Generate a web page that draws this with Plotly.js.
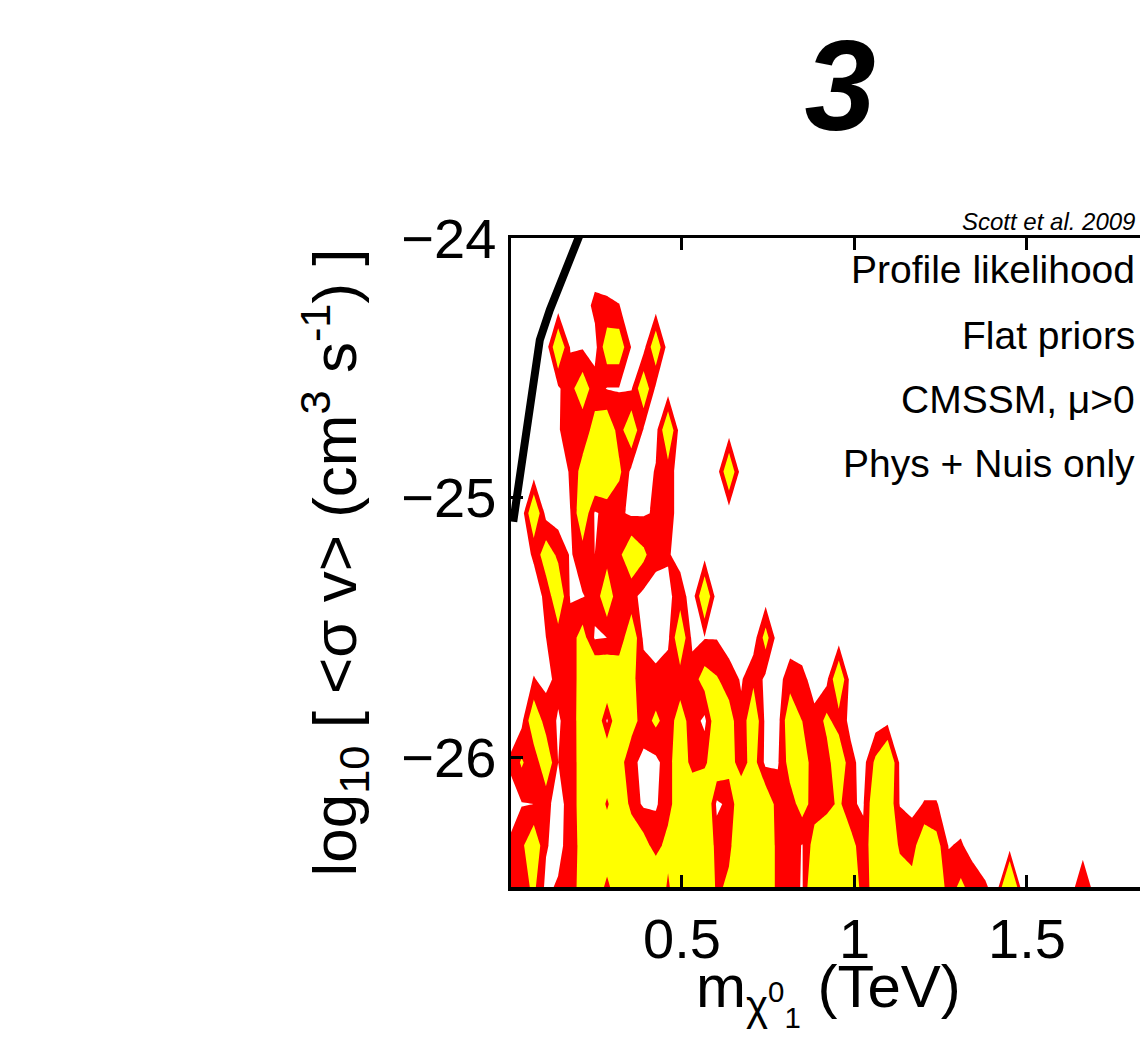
<!DOCTYPE html>
<html>
<head>
<meta charset="utf-8">
<script src="https://cdn.plot.ly/plotly-3.0.1.min.js"></script>
<style>
html,body{margin:0;padding:0;overflow:hidden;background:#ffffff;}
#chart{width:1680px;height:1052px;}
</style>
</head>
<body>
<div id="chart"></div>
<script>
// neutralino mass grid (TeV)
const massTeV = [0,0.0354,0.0707,0.1061,0.1414,0.1768,0.2122,0.2475,0.2829,0.3182,
  0.3536,0.3890,0.4243,0.4597,0.4950,0.5304,0.5658,0.6011,0.6365,0.6718,
  0.7072,0.7426,0.7779,0.8133,0.8486,0.8840,0.9194,0.9547,0.9901,1.0254,
  1.0608,1.0962,1.1315,1.1669,1.2022,1.2376,1.2730,1.3083,1.3437,1.3790,
  1.4144,1.4498,1.4851,1.5205,1.5558,1.5912,1.6266,1.6619,1.6973];
// log10 <sigma v> grid
const logSigmaV = [-26.50,-26.34,-26.18,-26.02,-25.86,-25.70,-25.54,-25.38,
  -25.22,-25.06,-24.90,-24.74,-24.58,-24.42,-24.26,-24.10];

// profile likelihood values read per grid row (bottom row first)
const likeRow00 = [1.2,2,3.5,0.5,1.3,2,4,6,2,6, 6,6,6,2.5,6,6,6,2.5,3.5,6, 6,6,2,2,0.8,6,6,6,5,2, 4,6,5,4,6,5,2,3.5,2,1.2, 0.3,8,0,0,0,0,0,2.9,0];
const likeRow01 = [1.2,2.5,5,1.2,0.2,2.2,3.6,6,6,6, 6,4,2,4,6,6,6,2,2.5,5, 6,6,2,2,0.9,4,6,4,4,1.5, 5,6,2.5,2,5,4,0.9,1.2,0.3,0, 0,0,0,0,0,0,0,0,0];
const likeRow02 = [0.3,0.9,1,1.5,0.3,1.8,4.2,6,2.5,6, 2,0.7,0.8,2,5,6,6,0.6,1.5,5, 6,5,2,2,4,2,2,3.5,1.2,0.8, 5,5,0.9,0.5,1.1,1.1,0.3,0,0,0, 0,0,0,0,0,0,0,0,0];
const likeRow03 = [1.2,3.3,1.5,5,1,2.3,3.7,6,6,4, 1.5,0.5,0.5,2,5,2,2.5,5,4,2, 4,0.5,0.8,4,5,1.2,2,5,1.5,0.3, 3.5,6,0.7,0,0,0,0,0,0,0, 0,0,0,0,0,0,0,0,0];
const likeRow04 = [0,0.5,5,2,0.8,1.8,4.3,6,0.7,6, 4,2,3.5,2,4,2,0.5,5,4,1.5, 5,0.5,0.3,5,3,1.5,3.6,2,0.5,0, 0,0.5,0,0,0,0,0,0,0,0, 0,0,0,0,0,0,0,0,0];
const likeRow05 = [0,0,1.1,0.5,1.5,2.2,3.8,6,6,5, 3.5,2,1.5,2,2,2,4,3.2,2,0.8, 2.5,0.5,0.3,2,1.5,0.3,0.5,5.5,0,0, 0,0,0,0,0,0,0,0,0,0, 0,0,0,0,0,0,0,0,0];
const likeRow06 = [0,0,0,1,2,2,4,0.8,1,1.5, 5,0.6,0.2,0.6,5,0.5,0.9,0.9,0,0, 0,4,0,0,0,0,0,0,0,0, 0,0,0,0,0,0,0,0,0,0, 0,0,0,0,0,0,0,0,0];
const likeRow07 = [0,0,0,1.5,5,0.8,0.9,1.5,5,1, 1.5,0.5,0.3,0.5,2,0,5.5,0,0,0, 0,0,0,0,0,0,0,0,0,0, 0,0,0,0,0,0,0,0,0,0, 0,0,0,0,0,0,0,0,0];
const likeRow08 = [0,0,1.3,4.5,2.5,0.8,2,1,2,2.5, 5,3.5,1.5,1.2,0.3,0,0.3,0,0,0, 0,0,0,0,0,0,0,0,0,0, 0,0,0,0,0,0,0,0,0,0, 0,0,0,0,0,0,0,0,0];
const likeRow09 = [0,0,5.5,0.3,0,1,5,0.8,1.5,1.3, 0.7,0.8,1.2,2,0,0,0,0,0,0, 0,0,0,0,0,0,0,0,0,0, 0,0,0,0,0,0,0,0,0,0, 0,0,0,0,0,0,0,0,0];
const likeRow10 = [0,0,0,0,0,1.2,4,6,6,3.5, 0.5,0,1.2,2,0,0,0,0,5.5,0, 0,0,0,0,0,0,0,0,0,0, 0,0,0,0,0,0,0,0,0,0, 0,0,0,0,0,0,0,0,0];
const likeRow11 = [0,0,0,0,0.8,2.2,1.5,4,5,2, 5,0.8,0.3,5.5,0,0,0,0,0,0, 0,0,0,0,0,0,0,0,0,0, 0,0,0,0,0,0,0,0,0,0, 0,0,0,0,0,0,0,0,0];
const likeRow12 = [0,0,0,0,0.7,2.3,4.5,1.8,0.9,0.9, 0.8,5,0.6,0,0,0,0,0,0,0, 0,0,0,0,0,0,0,0,0,0, 0,0,0,0,0,0,0,0,0,0, 0,0,0,0,0,0,0,0,0];
const likeRow13 = [0,0,0,0,5.5,0.8,0.8,0.3,4.5,4.5, 0.9,0.3,5,0,0,0,0,0,0,0, 0,0,0,0,0,0,0,0,0,0, 0,0,0,0,0,0,0,0,0,0, 0,0,0,0,0,0,0,0,0];
const likeRow14 = [0,0,0,0,0,0,0,1.5,1.3,1.05, 0,0,0,0,0,0,0,0,0,0, 0,0,0,0,0,0,0,0,0,0, 0,0,0,0,0,0,0,0,0,0, 0,0,0,0,0,0,0,0,0];
const likeRow15 = [0,0,0,0,0,0,0,0,0,0, 0,0,0,0,0,0,0,0,0,0, 0,0,0,0,0,0,0,0,0,0, 0,0,0,0,0,0,0,0,0,0, 0,0,0,0,0,0,0,0,0];

// contour levels: outer (red) and inner (yellow) region
const contourLevels = [1, 3];

// black boundary curve
const boundaryMass = [0.011,0.030,0.050,0.069,0.088,0.117,0.156,0.199,0.23];
const boundaryLogSigmaV = [-25.093,-24.908,-24.729,-24.536,-24.393,-24.277,-24.149,-24.001,-23.90];

const xTicks = [0.5, 1, 1.5, 2];
const yTicks = [-26, -25, -24];

const annotationLines = ['Profile likelihood', 'Flat priors', 'CMSSM, μ&gt;0', 'Phys + Nuis only'];
const annotationY = [0.9507, 0.8505, 0.7519, 0.6518];

const xTitleText = 'm<sub>χ<sup>0</sup><sub>1</sub></sub> (TeV)';
const yTitleText = 'log<sub>10</sub> [ &lt;σ v&gt; (cm<sup>3</sup> s<sup>-1</sup>) ]';

const z = [likeRow00,likeRow01,likeRow02,likeRow03,likeRow04,likeRow05,likeRow06,likeRow07,
           likeRow08,likeRow09,likeRow10,likeRow11,likeRow12,likeRow13,likeRow14,likeRow15];

const FONT = 'Liberation Sans, Arial, Helvetica, sans-serif';
const PLOT_L = 511, PLOT_R = 1162, PLOT_T = 238, PLOT_B = 887;
const textX = (1137 - PLOT_L) / (PLOT_R - PLOT_L);

const traces = [
  {
    type: 'contour',
    x: massTeV, y: logSigmaV, z: z,
    autocontour: false,
    contours: {start: contourLevels[0], end: contourLevels[1], size: contourLevels[1]-contourLevels[0], coloring: 'fill', showlines: false},
    colorscale: [[0,'#ffffff'],[0.25,'#ffffff'],[0.25,'#ff0000'],[0.75,'#ff0000'],[0.75,'#ffff00'],[1,'#ffff00']],
    line: {width: 0, smoothing: 0},
    showscale: false,
    hoverinfo: 'skip'
  },
  {
    type: 'scatter', mode: 'lines',
    x: boundaryMass, y: boundaryLogSigmaV,
    line: {color: '#000000', width: 8},
    hoverinfo: 'skip', showlegend: false
  }
];

const axisCommon = {
  showgrid: false, zeroline: false,
  showline: true, linecolor: '#000000', linewidth: 3.5, mirror: 'ticks',
  ticks: 'inside', ticklen: 12, tickwidth: 3, tickcolor: '#000000',
  tickfont: {family: FONT, size: 56, color: '#000000'}
};

const annotations = annotationLines.map((t, k) => ({
  text: t, xref: 'paper', yref: 'paper', x: textX, y: annotationY[k],
  xanchor: 'right', yanchor: 'middle', showarrow: false,
  font: {family: FONT, size: 39, color: '#000000'}
}));
annotations.push({
  text: 'Scott et al. 2009', xref: 'paper', yref: 'paper', x: textX, y: 1.026,
  xanchor: 'right', yanchor: 'middle', showarrow: false,
  font: {family: FONT, size: 24, color: '#000000', style: 'italic'}
});
// x-axis title, placed as text just under the tick labels
annotations.push({
  text: xTitleText, xref: 'paper', yref: 'paper',
  x: (828 - PLOT_L) / (PLOT_R - PLOT_L), y: (PLOT_B - 994) / (PLOT_B - PLOT_T),
  xanchor: 'center', yanchor: 'middle', showarrow: false,
  font: {family: FONT, size: 60, color: '#000000'}
});

const layout = {
  width: 1680, height: 1052,
  margin: {l: PLOT_L, r: 1680 - PLOT_R, t: PLOT_T, b: 1052 - PLOT_B},
  paper_bgcolor: '#ffffff', plot_bgcolor: '#ffffff',
  showlegend: false,
  title: {
    text: '3', x: 0.5, xanchor: 'center', xref: 'container',
    y: 1 - 85/1052, yanchor: 'middle', yref: 'container',
    font: {family: FONT, size: 128, weight: 'bold', style: 'italic', color: '#000000'}
  },
  xaxis: Object.assign({}, axisCommon, {
    range: [0.0045, (PLOT_R - 509.5) / 345], tickvals: xTicks
  }),
  yaxis: Object.assign({}, axisCommon, {
    range: [-26.5, -24], tickvals: yTicks,
    title: {text: yTitleText, font: {family: FONT, size: 62, color: '#000000'}, standoff: 25}
  }),
  annotations: annotations
};

Plotly.newPlot('chart', traces, layout, {displayModeBar: false, staticPlot: true});
</script>
</body>
</html>
